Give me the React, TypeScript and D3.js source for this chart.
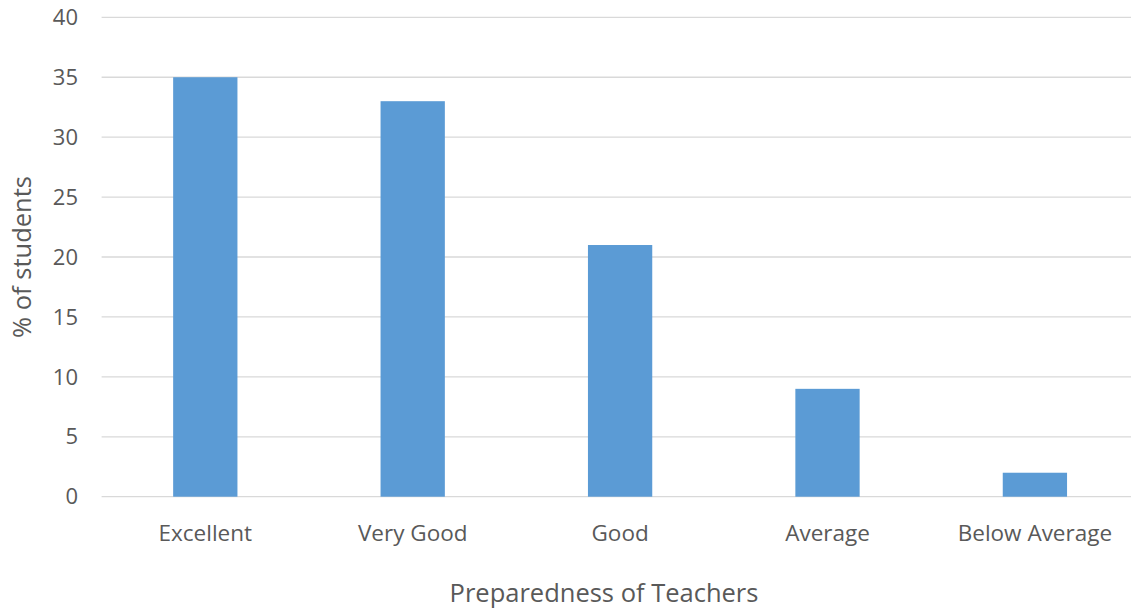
import React from 'react';
import { scaleBand, scaleLinear } from 'd3';

const categories = ['Excellent', 'Very Good', 'Good', 'Average', 'Below Average'];
const values = [35, 33, 21, 9, 2];
const yTicks = [0, 5, 10, 15, 20, 25, 30, 35, 40];

const width = 1131;
const height = 612;
const font = "'Open Sans', 'Liberation Sans', sans-serif";
const textColor = '#595959';

const App: React.FC = () => {
  const xScale = scaleBand<string>()
    .domain(categories)
    .range([101.6, 1138.6])
    .paddingInner(0.69)
    .paddingOuter(0.345);
  const yScale = scaleLinear().domain([0, 40]).range([496.7, 17.3]);

  return (
    <div style={{ position: 'fixed', top: 0, left: 0 }}>
      <svg width={width} height={height} style={{ display: 'block', background: '#fff' }}>
        {/* gridlines + y labels */}
        {yTicks.map((t) => (
          <g key={t}>
            <line
              x1={101.6}
              x2={width}
              y1={yScale(t)}
              y2={yScale(t)}
              stroke="#d9d9d9"
              strokeWidth={1.3}
            />
            <text
              x={78}
              y={yScale(t)}
              dy="0.35em"
              textAnchor="end"
              fontFamily={font}
              fontSize={22}
              fill={textColor}
            >
              {t}
            </text>
          </g>
        ))}

        {/* bars */}
        {categories.map((c, i) => (
          <rect
            key={c}
            x={xScale(c)}
            y={yScale(values[i])}
            width={xScale.bandwidth()}
            height={yScale(0) - yScale(values[i])}
            fill="#5b9bd5"
          />
        ))}

        {/* category labels */}
        {categories.map((c) => (
          <text
            key={c}
            x={(xScale(c) as number) + xScale.bandwidth() / 2}
            y={541}
            textAnchor="middle"
            fontFamily={font}
            fontSize={22.5}
            fill={textColor}
          >
            {c}
          </text>
        ))}

        {/* axis titles */}
        <text
          x={604}
          y={602}
          textAnchor="middle"
          fontFamily={font}
          fontSize={25.5}
          fill={textColor}
        >
          Preparedness of Teachers
        </text>
        <text
          transform={`translate(31, ${257}) rotate(-90)`}
          textAnchor="middle"
          fontFamily={font}
          fontSize={25.5}
          fill={textColor}
        >
          % of students
        </text>
      </svg>
    </div>
  );
};

export default App;
